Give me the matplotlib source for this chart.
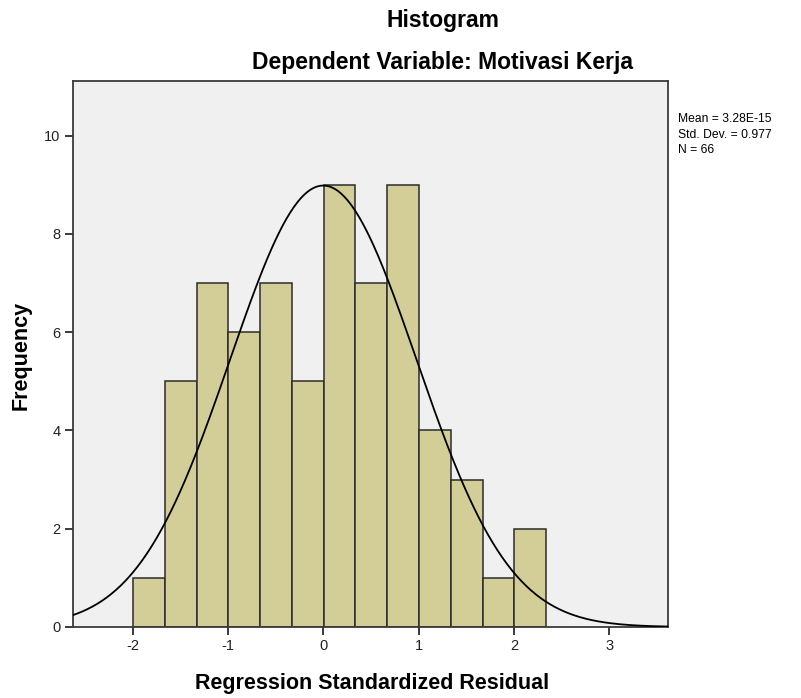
import numpy as np
import matplotlib
matplotlib.use("Agg")
import matplotlib.pyplot as plt

plt.rcParams['font.family'] = ['Liberation Sans', 'DejaVu Sans']

# Data
bin_start = -1.995
bin_width = 0.3333
counts = [1, 5, 7, 6, 7, 5, 9, 7, 9, 4, 3, 1, 2]
mean = 3.28e-15
std = 0.977
n = 66
x_ticks = [-2, -1, 0, 1, 2, 3]
y_ticks = [0, 2, 4, 6, 8, 10]

fig = plt.figure(figsize=(8.01, 6.98), dpi=100)
ax = fig.add_axes([73/801, 1-627/698, (668-73)/801, (627-81)/698])
ax.set_facecolor('#F0F0F0')

edges = bin_start + bin_width * np.arange(len(counts) + 1)
ax.bar(edges[:-1], counts, width=bin_width, align='edge', color='#D3CE97',
       edgecolor='#2B2B2B', linewidth=1.1, zorder=2)

xs = np.linspace(-2.626, 3.617, 500)
pdf = n * bin_width * np.exp(-0.5 * ((xs - mean) / std) ** 2) / (std * np.sqrt(2 * np.pi))
ax.plot(xs, pdf, color='black', linewidth=1.3, zorder=3)

ax.set_xlim(-2.626, 3.617)
ax.set_ylim(0, 11.11)
ax.set_xticks(x_ticks)
ax.set_yticks(y_ticks)
ax.set_xticklabels([str(t) for t in x_ticks], fontsize=10.5, color='#222222')
ax.set_yticklabels([str(t) for t in y_ticks], fontsize=10.5, color='#222222')
ax.tick_params(direction='out', length=6, width=1.3, color='#2B2B2B', pad=3)
for s in ax.spines.values():
    s.set_color('#3A3A3A')
    s.set_linewidth(1.3)

fig.text(443/801, 1-20/698, 'Histogram', ha='center', va='center', fontsize=16.5, fontweight='bold')
fig.text(443/801, 1-62/698, 'Dependent Variable: Motivasi Kerja', ha='center', va='center', fontsize=16.5, fontweight='bold')
fig.text(372/801, 1-683/698, 'Regression Standardized Residual', ha='center', va='center', fontsize=15.5, fontweight='bold')
fig.text(21/801, 1-355/698, 'Frequency', ha='center', va='center', rotation=90, fontsize=15.5, fontweight='bold')
fig.text(678/801, 1-113/698, f'Mean = 3.28E-15\nStd. Dev. = {std}\nN = {n}', ha='left', va='top',
         fontsize=8.7, linespacing=1.4)

fig.savefig('out.png', dpi=100)
